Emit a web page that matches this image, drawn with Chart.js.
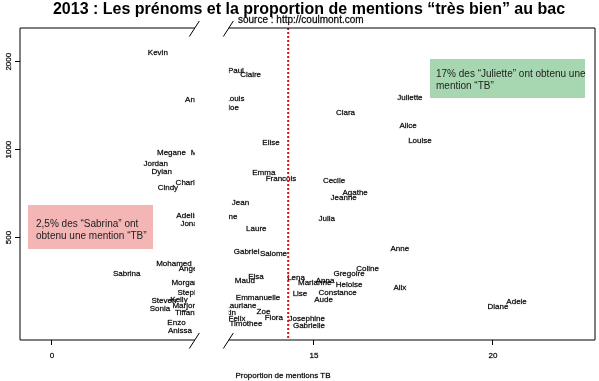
<!DOCTYPE html>
<html>
<head>
<meta charset="utf-8">
<script src="https://cdn.jsdelivr.net/npm/chart.js@4.4.1/dist/chart.umd.min.js"></script>
<style>
html, body { margin: 0; padding: 0; background: #fff; }
</style>
</head>
<body>
<canvas id="chart" width="599" height="381"></canvas>
<script>
// prénoms, part de mentions TB (%) et effectif au bac
var names = ['Kevin', 'Paul', 'Claire', 'Antoine', 'Louis', 'Chloe', 'Juliette', 'Clara',
  'Alice', 'Louise', 'Elise', 'Megane', 'Marine', 'Jordan', 'Dylan', 'Emma', 'Francois',
  'Charlene', 'Cindy', 'Cecile', 'Agathe', 'Jeanne', 'Jean', 'Julia', 'Adeline', 'Jonathan',
  'Helene', 'Laure', 'Anne', 'Gabriel', 'Salome', 'Mohamed', 'Angelique', 'Sabrina',
  'Morgane', 'Stephanie', 'Steven', 'Kelly', 'Sonia', 'Marjorie', 'Tiffany', 'Enzo',
  'Anissa', 'Elsa', 'Maud', 'Emmanuelle', 'Lauriane', 'Zoe', 'Quentin', 'Flora', 'Felix',
  'Timothee', 'Lena', 'Marianne', 'Anna', 'Heloise', 'Gregoire', 'Coline', 'Lise',
  'Constance', 'Aude', 'Josephine', 'Gabrielle', 'Alix', 'Diane', 'Adele'];

var propTB = [2.96, 12.82, 13.23, 4.10, 12.79, 12.61, 17.68, 15.88,
  17.63, 17.96, 13.80, 3.34, 4.22, 2.90, 3.07, 13.60, 14.08,
  3.91, 3.24, 15.56, 16.15, 15.83, 12.95, 15.36, 3.85, 4.05,
  12.51, 13.39, 17.40, 13.12, 13.87, 3.41, 4.04, 2.09,
  3.78, 4.01, 3.13, 3.55, 3.02, 3.77, 3.77, 3.48,
  3.58, 13.38, 13.07, 13.44, 12.96, 13.59, 12.43, 13.88, 12.85,
  13.10, 14.50, 15.02, 15.31, 15.98, 15.98, 16.50, 14.61,
  15.66, 15.27, 14.80, 14.86, 17.40, 20.14, 20.66];

var effectif = [2150, 1860, 1800, 1480, 1490, 1390, 1500, 1340,
  1210, 1070, 1055, 976, 976, 893, 841, 830, 792,
  768, 738, 782, 713, 682, 660, 579, 594, 558,
  590, 534, 456, 446, 439, 408, 392, 377,
  350, 324, 304, 307, 285, 292, 276, 256,
  240, 366, 356, 310, 292, 278, 276, 265, 263,
  253, 363, 349, 356, 344, 375, 390, 320,
  323, 306, 263, 250, 337, 290, 302];

var xTicks = [0, 15, 20];
var yTicks = [500, 1000, 2000];
var xRange = [-0.89, 22.85];
var yRange = [223, 2608];
var gap = [4.44, 12.12];     // partie de l'axe retirée
var moyenneTB = 14.28;

function toPlot(v) { return v <= gap[0] ? v : v - (gap[1] - gap[0]); }
function fromPlot(u) { return u <= gap[0] ? u : u + (gap[1] - gap[0]); }

class GapScale extends Chart.LinearScale {
  configure() {
    super.configure();
    this._startValue = toPlot(this.min);
    this._valueRange = toPlot(this.max) - toPlot(this.min);
  }
  getPixelForValue(value) {
    return value === null ? NaN : this.getPixelForDecimal((toPlot(value) - this._startValue) / this._valueRange);
  }
  getValueForPixel(pixel) {
    return fromPlot(this._startValue + this.getDecimalForPixel(pixel) * this._valueRange);
  }
}
GapScale.id = 'gap';
GapScale.defaults = {};
Chart.register(GapScale);

var FONT = '"Liberation Sans", Arial, Helvetica, sans-serif';

// texte un peu épaissi comme dans l'original
function heavyText(ctx, txt, x, y) {
  ctx.strokeText(txt, x, y);
  ctx.fillText(txt, x, y);
}

var decor = {
  id: 'decor',
  afterDatasetsDraw: function(chart) {
    var ctx = chart.ctx, a = chart.chartArea;
    var xs = chart.scales.x, ys = chart.scales.y;
    var cut = xs.getPixelForValue(gap[0]);
    var s0 = cut - 16, s1 = cut + 18;

    // noms, coupés au niveau de la cassure
    ctx.save();
    ctx.beginPath();
    ctx.rect(a.left, a.top, s0 - a.left, a.bottom - a.top);
    ctx.rect(s1, a.top, a.right - s1, a.bottom - a.top);
    ctx.clip();
    ctx.font = '8px ' + FONT;
    ctx.fillStyle = '#000';
    ctx.strokeStyle = 'rgba(0,0,0,0.6)';
    ctx.lineWidth = 0.35;
    ctx.textAlign = 'center';
    ctx.textBaseline = 'middle';
    chart.getDatasetMeta(0).data.forEach(function(pt, i) {
      heavyText(ctx, names[i], pt.x, pt.y);
    });

    // ligne moyenne
    var mx = xs.getPixelForValue(moyenneTB);
    ctx.strokeStyle = '#dd1111';
    ctx.lineWidth = 2;
    ctx.setLineDash([2, 2]);
    ctx.beginPath();
    ctx.moveTo(mx, a.top);
    ctx.lineTo(mx, a.bottom);
    ctx.stroke();
    ctx.restore();

    // cadre avec cassure
    ctx.save();
    ctx.strokeStyle = '#000';
    ctx.lineWidth = 1;
    ctx.beginPath();
    ctx.moveTo(a.left, a.top); ctx.lineTo(a.left, a.bottom);
    ctx.moveTo(a.right, a.top); ctx.lineTo(a.right, a.bottom);
    [a.top, a.bottom].forEach(function(y) {
      ctx.moveTo(a.left, y); ctx.lineTo(s0, y);
      ctx.moveTo(s1, y); ctx.lineTo(a.right, y);
      [s0, s1].forEach(function(x) {
        ctx.moveTo(x - 5.5, y + 8.5); ctx.lineTo(x + 4.5, y - 7);
      });
    });
    ctx.stroke();

    // graduations y verticales
    ctx.fillStyle = '#000';
    ctx.strokeStyle = 'rgba(0,0,0,0.6)';
    ctx.lineWidth = 0.35;
    ctx.font = '8px ' + FONT;
    ctx.textAlign = 'center';
    ctx.textBaseline = 'middle';
    yTicks.forEach(function(v) {
      ctx.save();
      ctx.translate(8.5, ys.getPixelForValue(v));
      ctx.rotate(-Math.PI / 2);
      heavyText(ctx, String(v), 0, 0);
      ctx.restore();
    });
    xTicks.forEach(function(v) {
      heavyText(ctx, String(v), xs.getPixelForValue(v), 356);
    });

    // titres
    ctx.font = 'bold 16px ' + FONT;
    ctx.fillText('2013 : Les prénoms et la proportion de mentions “très bien” au bac', 309, 10);
    ctx.font = '10px ' + FONT;
    ctx.textAlign = 'left';
    heavyText(ctx, 'source : http://coulmont.com', 238, 20);
    ctx.font = '8px ' + FONT;
    ctx.textAlign = 'center';
    heavyText(ctx, 'Proportion de mentions TB', 283, 376);

    // encadrés
    ctx.fillStyle = '#f4b5b5';
    ctx.fillRect(28, 205, 125, 44);
    ctx.fillStyle = '#a7d7b1';
    ctx.fillRect(430, 59, 155, 39);
    ctx.fillStyle = '#222';
    ctx.font = '10px ' + FONT;
    ctx.textAlign = 'left';
    ctx.fillText('2,5% des “Sabrina” ont', 36, 224);
    ctx.fillText('obtenu une mention “TB”', 36, 236);
    ctx.fillText('17% des “Juliette” ont obtenu une', 436, 74);
    ctx.fillText('mention “TB”', 436, 86);
    ctx.restore();
  }
};

var tickGrid = { display: true, drawOnChartArea: false, drawTicks: true, tickLength: 5, color: '#000', lineWidth: 1 };

new Chart(document.getElementById('chart'), {
  type: 'scatter',
  data: {
    datasets: [{
      data: names.map(function(n, i) { return { x: propTB[i], y: effectif[i] }; }),
      pointRadius: 0,
      pointHoverRadius: 0
    }]
  },
  options: {
    responsive: false,
    animation: false,
    layout: { padding: { top: 28, right: 4, left: 0, bottom: 0 } },
    plugins: { legend: { display: false }, tooltip: { enabled: false } },
    scales: {
      x: {
        type: 'gap',
        min: xRange[0],
        max: xRange[1],
        afterBuildTicks: function(s) { s.ticks = xTicks.map(function(v) { return { value: v }; }); },
        afterFit: function(s) { s.height = 41; },
        grid: tickGrid,
        border: { display: false },
        ticks: { display: false }
      },
      y: {
        type: 'logarithmic',
        min: yRange[0],
        max: yRange[1],
        afterBuildTicks: function(s) { s.ticks = yTicks.map(function(v) { return { value: v }; }); },
        afterFit: function(s) { s.width = 20; },
        grid: tickGrid,
        border: { display: false },
        ticks: { display: false }
      }
    }
  },
  plugins: [decor]
});
</script>
</body>
</html>
